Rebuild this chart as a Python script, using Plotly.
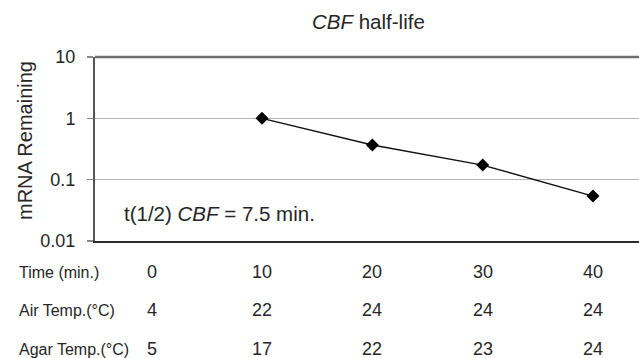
import plotly.graph_objects as go

# Data
time_min = [10, 20, 30, 40]
mrna_remaining = [1.0, 0.367, 0.173, 0.054]

table_cols = [0, 10, 20, 30, 40]
row_labels = ["Time (min.)", "Air Temp.(°C)", "Agar Temp.(°C)"]
time_row = ["0", "10", "20", "30", "40"]
air_temp = ["4", "22", "24", "24", "24"]
agar_temp = ["5", "17", "22", "23", "24"]

y_ticks = [10, 1, 0.1, 0.01]
y_tick_text = ["10", "1", "0.1", "0.01"]

FONT = "Arial, Liberation Sans, sans-serif"
TXT = "#262626"

W, H = 639, 358
# plot area in page pixels
PL, PR, PT, PB = 95, 639, 57, 241
L, T = PL, PT
R = W - PR
B = H - PB
plot_w = PR - PL
plot_h = PB - PT


def px_x(x):
    return (x - PL) / plot_w


def px_y(y):
    return (PB - y) / plot_h


fig = go.Figure()
fig.add_trace(go.Scatter(
    x=time_min, y=mrna_remaining, mode="lines+markers",
    line=dict(color="#111111", width=1.4),
    marker=dict(symbol="diamond", size=10, color="#000000"),
    showlegend=False, hoverinfo="skip"))

# top border line at 10
fig.add_shape(type="line", xref="paper", yref="paper", x0=0, x1=1, y0=1, y1=1,
              line=dict(color="#6e6e6e", width=2.5), layer="above")

annotations = []
# table
row_y_px = [272, 310, 349]
rows = [time_row, air_temp, agar_temp]
for lbl, ypx, vals in zip(row_labels, row_y_px, rows):
    yp = px_y(ypx)
    annotations.append(dict(text=lbl, xref="paper", yref="paper",
                            x=px_x(17), y=yp, xanchor="left", yanchor="middle",
                            showarrow=False, font=dict(family=FONT, size=16, color=TXT)))
    for xc, v in zip(table_cols, vals):
        annotations.append(dict(text=v, xref="x", yref="paper", x=xc, y=yp,
                                xanchor="center", yanchor="middle", showarrow=False,
                                font=dict(family=FONT, size=18, color=TXT)))

# half-life annotation
annotations.append(dict(text="t(1/2) <i>CBF</i> = 7.5 min.", xref="paper", yref="paper",
                        x=px_x(122), y=px_y(213),
                        xanchor="left", yanchor="middle", showarrow=False,
                        font=dict(family=FONT, size=20.5, color=TXT)))
# y axis title
annotations.append(dict(text="mRNA Remaining", xref="paper", yref="paper",
                        x=px_x(25), y=px_y(141), textangle=-90,
                        xanchor="center", yanchor="middle", showarrow=False,
                        font=dict(family=FONT, size=20, color=TXT)))
# title
annotations.append(dict(text="<i>CBF</i> half-life", xref="paper", yref="paper",
                        x=px_x(368), y=px_y(21),
                        xanchor="center", yanchor="middle", showarrow=False,
                        font=dict(family=FONT, size=20.5, color=TXT)))

fig.update_layout(
    width=W, height=H,
    margin=dict(l=L, r=R, t=T, b=B, pad=0),
    paper_bgcolor="white", plot_bgcolor="white",
    annotations=annotations,
    xaxis=dict(range=[-5.14, 44.17], showgrid=False, zeroline=False,
               showticklabels=False, ticks="", showline=True,
               linecolor="#2a2a2a", linewidth=2),
    yaxis=dict(type="log", range=[-2, 1], tickvals=y_ticks, ticktext=y_tick_text,
               showgrid=True, gridcolor="#b4b4b4", gridwidth=1.5,
               showline=True, linecolor="#555555", linewidth=2,
               ticks="outside", ticklen=6, tickcolor="#888888", tickwidth=1.5,
               ticklabelstandoff=8,
               tickfont=dict(family=FONT, size=18, color=TXT)),
)

fig.write_html(
    "out.html",
    config={"displayModeBar": False, "staticPlot": True},
    post_script="document.body.style.margin='0';document.body.style.overflow='hidden';",
)
